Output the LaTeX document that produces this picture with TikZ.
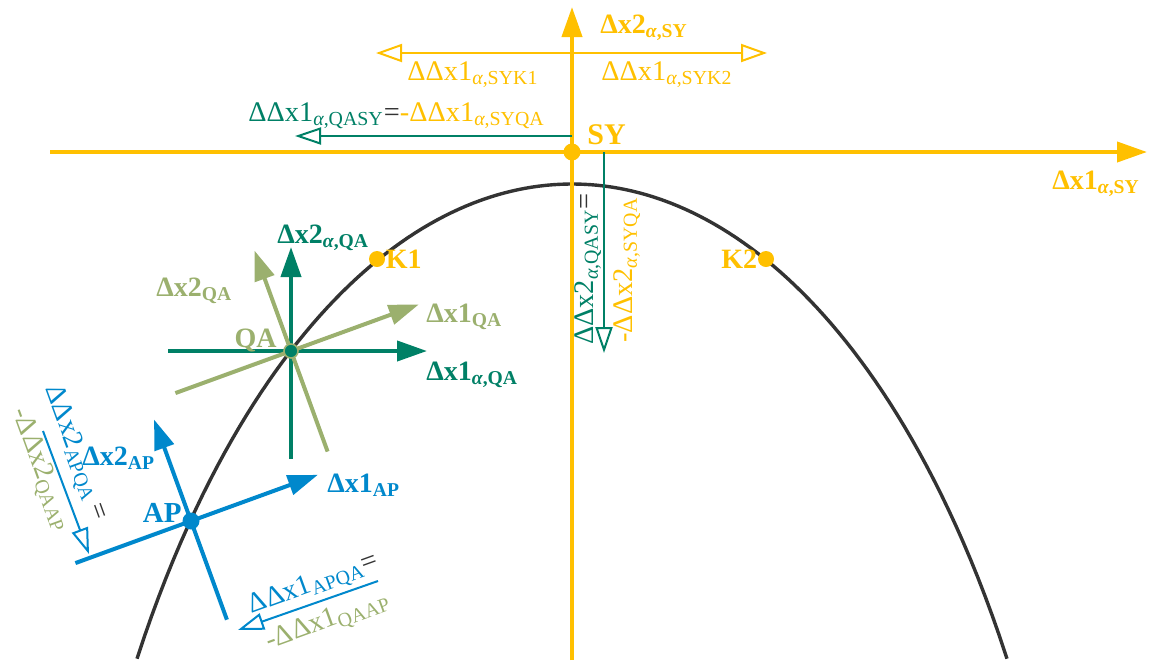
\documentclass[tikz,border=0pt]{standalone}
\usepackage{fontspec}
\setmainfont{Liberation Serif}
\usepackage{xcolor}
\usepackage{tikz}
\usetikzlibrary{arrows.meta,positioning,calc}
\definecolor{sygold}{RGB}{255,192,0}
\definecolor{qateal}{RGB}{0,128,102}
\definecolor{qasage}{RGB}{155,176,110}
\definecolor{apblue}{RGB}{0,136,204}
\definecolor{curvegray}{RGB}{51,51,51}
\newcommand{\al}{\textit{α}}
\tikzset{
  kinpicture/.style={x=0.5pt, y=-0.5pt},
  kincurve/.style={line width=1.7pt, curvegray},
  kinaxis/.style={line width=2pt, -{Triangle[length=15pt, width=10pt]}},
  kindiff/.style={line width=1pt, -{Triangle[open, length=13pt, width=8.5pt]}},
  kinboth/.style={line width=1pt, {Triangle[open, length=13pt, width=9pt]}-{Triangle[open, length=13pt, width=9pt]}},
  kindot/.style={circle, inner sep=0pt, minimum size=8.5pt},
  kinaxlabel/.style={font=\fontsize{14}{15}\selectfont\bfseries, inner sep=0pt},
  kinptlabel/.style={font=\fontsize{14}{15}\selectfont\bfseries, inner sep=0pt},
  kindlabel/.style={font=\fontsize{14.2}{15}\selectfont, inner sep=0pt}
}
\begin{document}
\begin{tikzpicture}[kinpicture]
\useasboundingbox (0,0) rectangle (1149,660);
\coordinate (SY) at (572,152);
\coordinate (QA) at (291,351);
\coordinate (AP) at (191,521);
% path curve
\draw[kincurve] plot[domain=-435:435, samples=120] ({572+\x},{1234-1050*sqrt(1-(\x/520)^2)});
% SY frame
\coordinate (SYw) at (50,152);
\coordinate (SYe) at (1147,152);
\coordinate (SYs) at (572,660);
\coordinate (SYn) at (572,7);
\draw[kinaxis, sygold] (SYw) -- (SYe);
\draw[kinaxis, sygold] (SYs) -- (SYn);
\coordinate (K1d) at (376,53);
\coordinate (K2d) at (767,53);
\draw[kinboth, sygold] (K1d) -- (K2d);
\coordinate (SYh) at (572,136);
\coordinate (QASYh) at (295,136);
\draw[kindiff, qateal] (SYh) -- (QASYh);
\coordinate (SYv) at (604,152);
\coordinate (QASYv) at (604,353);
\draw[kindiff, qateal] (SYv) -- (QASYv);
% QA frames
\coordinate (QAa1s) at ($(QA)+(-123,0)$);
\coordinate (QAa1e) at ($(QA)+(136,0)$);
\coordinate (QAa2s) at ($(QA)+(0,108)$);
\coordinate (QAa2e) at ($(QA)+(0,-104)$);
\draw[kinaxis, qateal] (QAa1s) -- (QAa1e);
\draw[kinaxis, qateal] (QAa2s) -- (QAa2e);
\coordinate (QAr1s) at ($(QA)+(160:123)$);
\coordinate (QAr1e) at ($(QA)+(-20:136)$);
\coordinate (QAr2s) at ($(QA)+(70:107)$);
\coordinate (QAr2e) at ($(QA)+(-110:107)$);
\draw[kinaxis, qasage] (QAr1s) -- (QAr1e);
\draw[kinaxis, qasage] (QAr2s) -- (QAr2e);
% AP frame
\coordinate (APr1s) at ($(AP)+(160:123)$);
\coordinate (APr1e) at ($(AP)+(-20:135)$);
\coordinate (APr2s) at ($(AP)+(70:105)$);
\coordinate (APr2e) at ($(AP)+(-110:108)$);
\draw[kinaxis, apblue] (APr1s) -- (APr1e);
\draw[kinaxis, apblue] (APr2s) -- (APr2e);
\coordinate (APd2s) at (43,431);
\coordinate (APd2e) at (89,554);
\draw[kindiff, apblue] (APd2s) -- (APd2e);
\coordinate (APd1s) at (378,581);
\coordinate (APd1e) at (238,630);
\draw[kindiff, apblue] (APd1s) -- (APd1e);
% points
\node[kindot, fill=sygold] (SYdot) at (SY) {};
\node[kindot, fill=sygold, minimum size=8pt] (K1) at (377,259) {};
\node[kindot, fill=sygold, minimum size=8pt] (K2) at (766,259) {};
\node[kindot, fill=qateal, draw=qasage, line width=0.8pt, minimum size=7pt] (QAdot) at (QA) {};
\node[kindot, fill=apblue] (APdot) at (AP) {};
% labels
\node[kinaxlabel, sygold, anchor=base west] (lblx2SY) at (600,33) {Δx2\textsubscript{\al,SY}};
\node[kinaxlabel, sygold, anchor=base west] (lblx1SY) at (1052,189) {Δx1\textsubscript{\al,SY}};
\node[kinptlabel, sygold, font=\fontsize{15}{16}\selectfont\bfseries, anchor=base west] (lblSY) at (587,144) {SY};
\node[kinptlabel, sygold, right=0pt of K1] (lblK1) {K1};
\node[kinptlabel, sygold, left=0pt of K2] (lblK2) {K2};
\node[kindlabel, sygold, anchor=base west] (lblK1d) at (407,80) {ΔΔx1\textsubscript{\al,SYK1}};
\node[kindlabel, sygold, anchor=base west] (lblK2d) at (601,80) {ΔΔx1\textsubscript{\al,SYK2}};
\node[kindlabel, anchor=base west] (lblQASYh) at (248,121) {\textcolor{qateal}{ΔΔx1\textsubscript{\al,QASY}}\textcolor{curvegray}{=}\textcolor{sygold}{-ΔΔx1\textsubscript{\al,SYQA}}};
\node[kindlabel, qateal, rotate=90] (lblQASYv) at (588,269) {ΔΔx2\textsubscript{\al,QASY}\textcolor{curvegray}{=}};
\node[kindlabel, sygold, rotate=90] (lblSYQAv) at (627,270) {-ΔΔx2\textsubscript{\al,SYQA}};
\node[kinaxlabel, qateal, anchor=base west] (lblx2aQA) at (277,243) {Δx2\textsubscript{\al,QA}};
\node[kinaxlabel, qateal, anchor=base west] (lblx1aQA) at (426,380) {Δx1\textsubscript{\al,QA}};
\node[kinaxlabel, qasage, anchor=base west] (lblx2QA) at (156,296) {Δx2\textsubscript{QA}};
\node[kinaxlabel, qasage, anchor=base west] (lblx1QA) at (426,322) {Δx1\textsubscript{QA}};
\node[kinptlabel, qasage, anchor=base east] (lblQA) at (277,347) {QA};
\node[kinaxlabel, apblue, anchor=base west] (lblx2AP) at (82,465) {Δx2\textsubscript{AP}};
\node[kinaxlabel, apblue, anchor=base west] (lblx1AP) at (327,492) {Δx1\textsubscript{AP}};
\node[kinptlabel, apblue, font=\fontsize{14.5}{15}\selectfont\bfseries, anchor=base east] (lblAP) at (182,522) {AP};
\node[kindlabel, apblue, rotate=-70] (lblAPQAv) at (75,453) {ΔΔx2\textsubscript{APQA}\,\textcolor{curvegray}{=}};
\node[kindlabel, qasage, rotate=-70] (lblQAAPv) at (40,470) {-ΔΔx2\textsubscript{QAAP}};
\node[kindlabel, apblue, rotate=20] (lblAPQAh) at (314,585) {ΔΔx1\textsubscript{APQA}\textcolor{curvegray}{=}};
\node[kindlabel, qasage, rotate=20] (lblQAAPh) at (328,622) {-ΔΔx1\textsubscript{QAAP}};
\end{tikzpicture}
\end{document}
